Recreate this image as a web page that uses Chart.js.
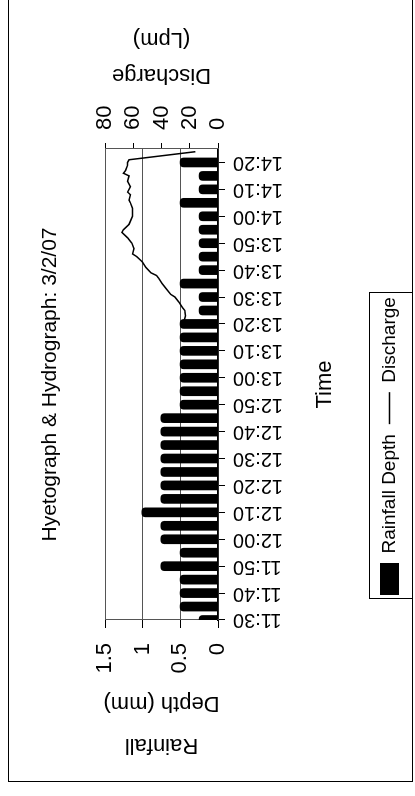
<!DOCTYPE html>
<html>
<head>
<meta charset="utf-8">
<script src="https://cdn.jsdelivr.net/npm/chart.js@4.4.1/dist/chart.umd.min.js"></script>
<style>
  html, body { margin: 0; padding: 0; background: #fff; overflow: hidden; }
  /* chart is laid out landscape, then turned a quarter turn like the scan */
  #wrap { position: absolute; left: 0; top: 0; width: 796px; height: 415px;
          transform-origin: 0 0; transform: translateY(796px) rotate(-90deg); }
</style>
</head>
<body>
<div id="wrap"><canvas id="hydro" width="796" height="415"></canvas></div>
<script>
const timeTicks = ['11:30', '11:40', '11:50', '12:00', '12:10', '12:20', '12:30', '12:40', '12:50',
  '13:00', '13:10', '13:20', '13:30', '13:40', '13:50', '14:00', '14:10', '14:20'];

// rainfall, mm per 5 min
const rainTimes = ['11:30', '11:35', '11:40', '11:45', '11:50', '11:55', '12:00', '12:05', '12:10',
  '12:15', '12:20', '12:25', '12:30', '12:35', '12:40', '12:45', '12:50', '12:55', '13:00', '13:05',
  '13:10', '13:15', '13:20', '13:25', '13:30', '13:35', '13:40', '13:45', '13:50', '13:55', '14:00',
  '14:05', '14:10', '14:15', '14:20'];
const rainDepth = [0.254, 0.508, 0.508, 0.508, 0.762, 0.508, 0.762, 0.762, 1.016,
  0.762, 0.762, 0.762, 0.762, 0.762, 0.762, 0.762, 0.508, 0.508, 0.508, 0.508,
  0.508, 0.508, 0.508, 0.254, 0.254, 0.508, 0.254, 0.254, 0.254, 0.254, 0.254,
  0.508, 0.254, 0.254, 0.508];

// discharge, Lpm
const flowTimes = ['13:19', '13:21', '13:23', '13:25', '13:26', '13:28', '13:30', '13:31', '13:33',
  '13:35', '13:37', '13:38', '13:39', '13:41', '13:43', '13:45', '13:46', '13:48', '13:50', '13:52',
  '13:54', '13:55', '13:57', '14:00', '14:03', '14:05', '14:06', '14:08', '14:09', '14:11', '14:13',
  '14:15', '14:16', '14:17', '14:19', '14:20', '14:21', '14:24'];
const flowLpm = [25.5, 24, 23, 23.5, 25, 27.5, 30.5, 33.5, 36.5,
  39.5, 42, 43.5, 47.5, 51, 53.5, 57.5, 60.5, 59.5, 61, 64,
  68, 67, 63, 60.5, 60.5, 62, 63, 62, 64, 62, 64,
  63, 67, 65.5, 64, 64, 63, 16];

const rainTitle = ['Rainfall', 'Depth (mm)'];
const flowTitle = ['Discharge', '(Lpm)'];

function minutesFrom(t) {
  const [h, m] = t.split(':').map(Number);
  const [h0, m0] = timeTicks[0].split(':').map(Number);
  return (h * 60 + m) - (h0 * 60 + m0);
}

const FONT = '"Liberation Sans", Arial, sans-serif';
Chart.defaults.font.family = FONT;
Chart.defaults.color = '#000';

const extras = {
  id: 'extras',
  beforeDraw(chart) {
    const ctx = chart.ctx;
    ctx.save();
    ctx.fillStyle = '#fff';
    ctx.fillRect(0, 0, chart.width, chart.height);
    ctx.strokeStyle = '#000';
    ctx.lineWidth = 1;
    ctx.strokeRect(14.5, 8.5, 790, 404);
    ctx.restore();
  },
  afterLayout(chart) {
    const area = chart.chartArea;
    chart.titleBlock.left = area.left;
    chart.titleBlock.right = area.right;
    chart.legend.left = 191;
  },
  afterDraw(chart) {
    const ctx = chart.ctx;
    const lg = chart.legend;
    const pad = lg.options.labels.padding;
    const c = lg.top + pad + 19 / 2;
    const x0 = lg.left + pad - 4;
    const x1 = lg.left + lg.lineWidths[0] + 4;
    ctx.save();
    ctx.strokeStyle = '#000';
    ctx.lineWidth = 1;
    ctx.strokeRect(Math.round(x0) + 0.5, Math.round(c - 21) + 0.5, Math.round(x1 - x0), 43);

    // right axis title, reads bottom to top like the left one
    ctx.font = '22px ' + FONT;
    ctx.fillStyle = '#000';
    ctx.textAlign = 'center';
    ctx.textBaseline = 'middle';
    const cy = (chart.chartArea.top + chart.chartArea.bottom) / 2;
    const x = chart.scales.y1.left + 74;
    flowTitle.forEach((line, i) => {
      ctx.save();
      ctx.translate(x + i * 36, cy);
      ctx.rotate(-Math.PI / 2);
      ctx.fillText(line, 0, 0);
      ctx.restore();
    });
    ctx.restore();
  }
};

new Chart(document.getElementById('hydro'), {
  type: 'bar',
  data: {
    datasets: [{
      label: 'Rainfall Depth',
      data: rainTimes.map((t, i) => ({ x: minutesFrom(t), y: rainDepth[i] })),
      yAxisID: 'y',
      backgroundColor: '#000',
      borderRadius: 4,
      barPercentage: 0.9,
      categoryPercentage: 0.8,
      clip: 0,
      order: 1,
      pointStyle: 'rect'
    }, {
      type: 'line',
      label: 'Discharge',
      data: flowTimes.map((t, i) => ({ x: minutesFrom(t), y: flowLpm[i] })),
      yAxisID: 'y1',
      borderColor: '#000',
      backgroundColor: '#000',
      borderWidth: 1.5,
      pointRadius: 0,
      tension: 0,
      order: 0,
      pointStyle: 'line'
    }]
  },
  options: {
    responsive: false,
    animation: false,
    devicePixelRatio: 1,
    layout: { padding: { bottom: 6 } },
    plugins: {
      title: {
        display: true,
        text: 'Hyetograph & Hydrograph: 3/2/07',
        color: '#000',
        font: { size: 21, weight: 'normal' },
        padding: { top: 37.4, bottom: 42.4 }
      },
      legend: {
        position: 'bottom',
        align: 'start',
        labels: {
          usePointStyle: true,
          pointStyleWidth: 32,
          boxHeight: 19,
          padding: 10,
          font: { size: 19 },
          sort: (a, b) => a.datasetIndex - b.datasetIndex
        }
      },
      tooltip: { enabled: false }
    },
    scales: {
      x: {
        type: 'linear',
        position: 'bottom',
        min: 0,
        max: 175,
        offset: false,
        grid: { drawOnChartArea: false, offset: false, tickLength: 7, color: '#000' },
        border: { color: '#000', width: 1.5 },
        ticks: {
          stepSize: 10,
          includeBounds: false,
          autoSkip: false,
          minRotation: 90,
          maxRotation: 90,
          padding: 8,
          font: { size: 20 },
          callback: (v) => timeTicks[Math.round(v / 10)]
        },
        title: { display: true, text: 'Time', font: { size: 22 }, padding: { top: 0, bottom: 32 } },
        afterFit: (s) => { s.height = 152; }
      },
      y: {
        position: 'left',
        min: 0,
        max: 1.5,
        grid: { color: '#555', tickColor: '#000', tickLength: 8 },
        border: { color: '#555' },
        ticks: { stepSize: 0.5, autoSkip: false, padding: 15, font: { size: 22 }, callback: (v) => String(v) },
        title: { display: true, text: rainTitle, font: { size: 22, lineHeight: 1.9 }, padding: { top: 30 } },
        afterFit: (s) => { s.width = 176; }
      },
      y1: {
        position: 'right',
        min: 0,
        max: 80,
        grid: { drawOnChartArea: false, tickLength: 6, color: '#000' },
        border: { color: '#555' },
        ticks: { stepSize: 20, autoSkip: false, padding: 13, font: { size: 22 } },
        afterFit: (s) => { s.width = 149; }
      }
    }
  },
  plugins: [extras]
});
</script>
</body>
</html>
